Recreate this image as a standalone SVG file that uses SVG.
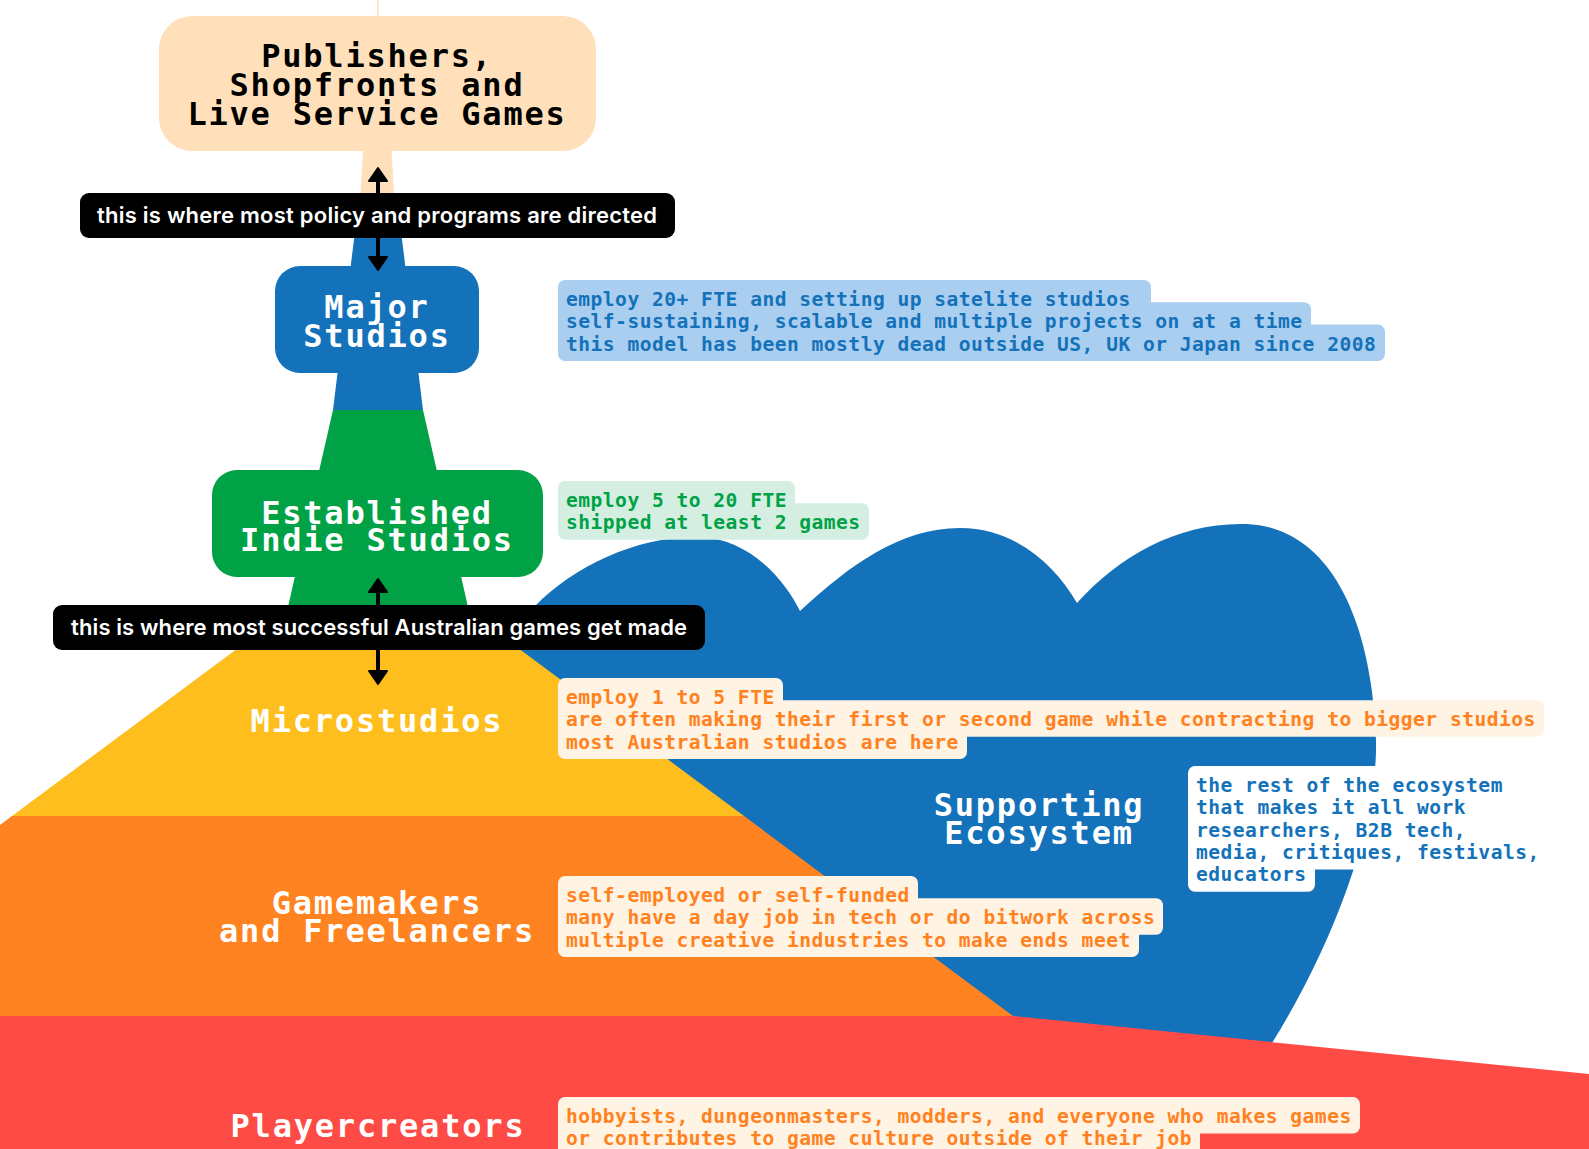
<svg xmlns="http://www.w3.org/2000/svg" width="1589" height="1149" viewBox="0 0 1589 1149">
<defs>
<style>
.title{font-family:"DejaVu Sans Mono","Liberation Mono",monospace;font-weight:bold;font-size:32px;letter-spacing:1.8px;text-anchor:middle}
.tw{fill:#ffffff}
.tk{fill:#000000}
.note{font-family:"DejaVu Sans Mono","Liberation Mono",monospace;font-weight:bold;font-size:19.6px;letter-spacing:0.48px}
.lab{font-family:"Inter","Noto Sans",sans-serif;font-weight:600;font-size:22px;fill:#ffffff;text-anchor:middle}
.nbl rect{fill:#A9CEF0}
.nbl text{fill:#1472BA}
.ngr rect{fill:#D4EFE2}
.ngr text{fill:#00A245}
.nor rect{fill:#FFF3E3}
.nor text{fill:#FF8120}
.nwh rect{fill:#ffffff}
.nwh text{fill:#1472BA}
.arrow{fill:none;stroke:#000;stroke-width:4}
</style>
<marker id="ah" viewBox="-2 -11 18 22" markerWidth="18" markerHeight="22" refX="2" refY="0" orient="auto-start-reverse" markerUnits="userSpaceOnUse">
<path d="M0,-9 L13,0 L0,9 Z" fill="#000" stroke="#000" stroke-width="2" stroke-linejoin="round"/>
</marker>
</defs>
<rect width="1589" height="1149" fill="#ffffff"/>

<g id="supporting-ecosystem">
<path d="M470,700 L535,606 C575,565 640,535 700,537 C750,539 785,580 800,611 C850,565 900,528 960,528 C1015,528 1055,565 1077,603 C1120,555 1180,522 1246,524 C1330,527 1372,620 1376,740 C1378,830 1330,950 1272,1043 L1250,1100 L900,1100 Z" fill="#1472BA"/>
<text class="title tw"><tspan x="1039" y="816">Supporting</tspan><tspan x="1039" y="844">Ecosystem</tspan></text>
</g>

<g id="microstudios">
<polygon points="378,544 744,816 12,816" fill="#FEBE1E"/>
<text class="title tw" x="377" y="732">Microstudios</text>
</g>

<g id="gamemakers">
<polygon points="12,816 744,816 1013,1016 0,1016 0,825" fill="#FF8320"/>
<text class="title tw"><tspan x="377" y="914">Gamemakers</tspan><tspan x="377" y="942">and Freelancers</tspan></text>
</g>

<g id="playercreators">
<polygon points="0,1016 1013,1016 1589,1074 1589,1149 0,1149" fill="#FF4B46"/>
<text class="title tw" x="378" y="1137">Playercreators</text>
</g>

<g id="publishers">
<line x1="378" y1="0" x2="378" y2="16" stroke="#FFE0BB" stroke-width="1.5"/>
<polygon points="372,16 384,16 396,230 358,230" fill="#FFE0BB"/>
<rect x="159" y="16" width="437" height="135" rx="33" fill="#FFE0BB"/>
<text class="title tk"><tspan x="377" y="67">Publishers,</tspan><tspan x="377" y="96">Shopfronts and</tspan><tspan x="377" y="125">Live Service Games</tspan></text>
</g>

<g id="major-studios">
<polygon points="357,215 399,215 423,410 333,410" fill="#1472BA"/>
<rect x="275" y="266" width="204" height="107" rx="25" fill="#1472BA"/>
<text class="title tw"><tspan x="377" y="318">Major</tspan><tspan x="377" y="347">Studios</tspan></text>
</g>

<g id="established-indie-studios">
<polygon points="333,410 423,410 471,620 285,620" fill="#00A245"/>
<rect x="212" y="470" width="331" height="107" rx="25" fill="#00A245"/>
<text class="title tw"><tspan x="377" y="523.5">Established</tspan><tspan x="377" y="551">Indie Studios</tspan></text>
</g>

<g id="connectors">
<path class="arrow" d="M378,179 V259" marker-start="url(#ah)" marker-end="url(#ah)"/>
<path class="arrow" d="M378,590 V673" marker-start="url(#ah)" marker-end="url(#ah)"/>
</g>

<g id="label-policy">
<rect x="80" y="193" width="595" height="45" rx="9" fill="#000"/>
<text class="lab" x="377" y="223" textLength="560">this is where most policy and programs are directed</text>
</g>

<g id="label-successful">
<rect x="53" y="605" width="652" height="45" rx="9" fill="#000"/>
<text class="lab" x="379" y="635" textLength="616">this is where most successful Australian games get made</text>
</g>

<g id="note-major" class="nbl">
<rect x="558" y="280" width="593" height="36.5" rx="7"/>
<rect x="558" y="302.3" width="753" height="36.5" rx="7"/>
<rect x="558" y="324.6" width="827" height="36.5" rx="7"/>
<text class="note"><tspan x="566" y="306">employ 20+ FTE and setting up satelite studios</tspan><tspan x="566" y="328.3">self-sustaining, scalable and multiple projects on at a time</tspan><tspan x="566" y="350.6">this model has been mostly dead outside US, UK or Japan since 2008</tspan></text>
</g>

<g id="note-established" class="ngr">
<rect x="558" y="481" width="237" height="36.5" rx="7"/>
<rect x="558" y="503.3" width="311" height="36.5" rx="7"/>
<text class="note"><tspan x="566" y="507">employ 5 to 20 FTE</tspan><tspan x="566" y="529.3">shipped at least 2 games</tspan></text>
</g>

<g id="note-micro" class="nor">
<rect x="558" y="678" width="225" height="36.5" rx="7"/>
<rect x="558" y="700.3" width="986" height="36.5" rx="7"/>
<rect x="558" y="722.6" width="409" height="36.5" rx="7"/>
<text class="note"><tspan x="566" y="704">employ 1 to 5 FTE</tspan><tspan x="566" y="726.3">are often making their first or second game while contracting to bigger studios</tspan><tspan x="566" y="748.6">most Australian studios are here</tspan></text>
</g>

<g id="note-supporting" class="nwh">
<rect x="1188" y="766" width="323" height="36.5" rx="7"/>
<rect x="1188" y="788.3" width="286" height="36.5" rx="7"/>
<rect x="1188" y="810.6" width="286" height="36.5" rx="7"/>
<rect x="1188" y="832.9" width="360" height="36.5" rx="7"/>
<rect x="1188" y="855.2" width="127" height="36.5" rx="7"/>
<text class="note"><tspan x="1196" y="792">the rest of the ecosystem</tspan><tspan x="1196" y="814.3">that makes it all work</tspan><tspan x="1196" y="836.6">researchers, B2B tech,</tspan><tspan x="1196" y="858.9">media, critiques, festivals,</tspan><tspan x="1196" y="881.2">educators</tspan></text>
</g>

<g id="note-gamemakers" class="nor">
<rect x="558" y="876" width="360" height="36.5" rx="7"/>
<rect x="558" y="898.3" width="605" height="36.5" rx="7"/>
<rect x="558" y="920.6" width="581" height="36.5" rx="7"/>
<text class="note"><tspan x="566" y="902">self-employed or self-funded</tspan><tspan x="566" y="924.3">many have a day job in tech or do bitwork across</tspan><tspan x="566" y="946.6">multiple creative industries to make ends meet</tspan></text>
</g>

<g id="note-playercreators" class="nor">
<rect x="558" y="1097" width="802" height="36.5" rx="7"/>
<rect x="558" y="1119.3" width="642" height="36.5" rx="7"/>
<text class="note"><tspan x="566" y="1123">hobbyists, dungeonmasters, modders, and everyone who makes games</tspan><tspan x="566" y="1145.3">or contributes to game culture outside of their job</tspan></text>
</g>
</svg>
